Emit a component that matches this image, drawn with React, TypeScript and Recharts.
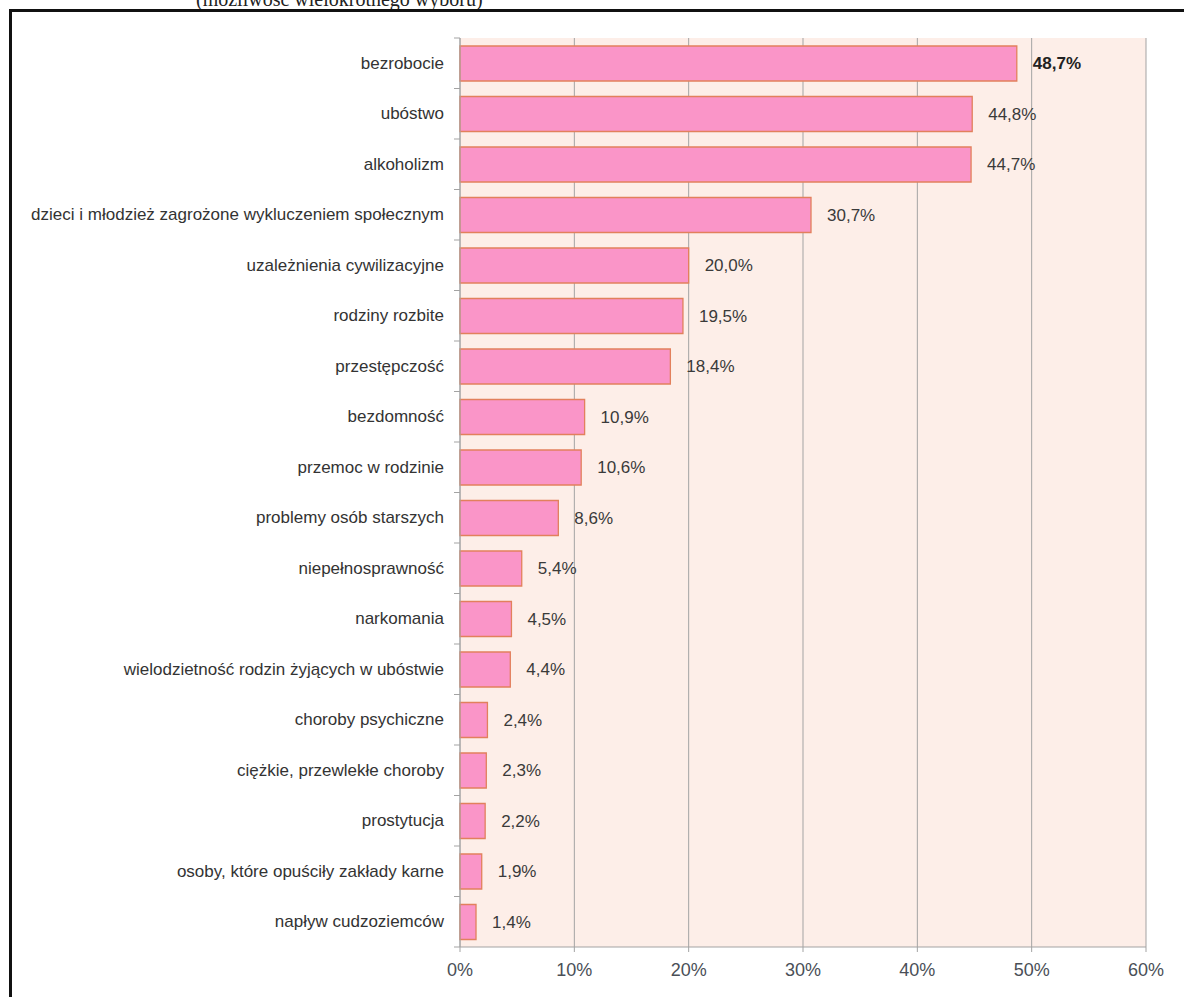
import React from "react";
import { BarChart, Bar, XAxis, YAxis, CartesianGrid, LabelList } from "recharts";

const categories = [
  "bezrobocie",
  "ubóstwo",
  "alkoholizm",
  "dzieci i młodzież zagrożone wykluczeniem społecznym",
  "uzależnienia cywilizacyjne",
  "rodziny rozbite",
  "przestępczość",
  "bezdomność",
  "przemoc w rodzinie",
  "problemy osób starszych",
  "niepełnosprawność",
  "narkomania",
  "wielodzietność rodzin żyjących w ubóstwie",
  "choroby psychiczne",
  "ciężkie, przewlekłe choroby",
  "prostytucja",
  "osoby, które opuściły zakłady karne",
  "napływ cudzoziemców",
];

const values = [48.7, 44.8, 44.7, 30.7, 20.0, 19.5, 18.4, 10.9, 10.6, 8.6, 5.4, 4.5, 4.4, 2.4, 2.3, 2.2, 1.9, 1.4];

const xTicks = [0, 10, 20, 30, 40, 50, 60];

const data = categories.map((name, i) => ({ name, value: values[i] }));

const W = 1184;
const H = 997;
const MARGIN = { top: 38, right: 38, bottom: 18, left: 0 };
const Y_W = 460;
const X_H = 32;
const PLOT_H = H - MARGIN.top - MARGIN.bottom - X_H;
const BAND = PLOT_H / categories.length;
const TICK_SIZE = 6;
const TICK_MARGIN = 10;

const FONT = "'Liberation Sans', Arial, sans-serif";
const GRID = "#a3a3a3";

// category label plus Excel-style tick marks between categories
function CategoryTick(props: any) {
  const { x, y, payload, index } = props;
  const ax = x + TICK_SIZE + TICK_MARGIN;
  return (
    <g>
      <text x={x} y={y} textAnchor="end" dominantBaseline="central" fontFamily={FONT} fontSize={17} fill="#333">
        {payload.value}
      </text>
      <line x1={ax - 6} x2={ax} y1={y - BAND / 2} y2={y - BAND / 2} stroke={GRID} />
      {index === categories.length - 1 && (
        <line x1={ax - 6} x2={ax} y1={y + BAND / 2} y2={y + BAND / 2} stroke={GRID} />
      )}
    </g>
  );
}

function ValueLabel(props: any) {
  const { x, y, width, height, value, index } = props;
  return (
    <text
      x={x + width + 16}
      y={y + height / 2}
      dominantBaseline="central"
      fontFamily={FONT}
      fontSize={17}
      fontWeight={index === 0 ? "bold" : "normal"}
      fill={index === 0 ? "#222" : "#3a3a3a"}
    >
      {value.toFixed(1).replace(".", ",")}%
    </text>
  );
}

export default function App() {
  return (
    <div style={{ position: "absolute", left: 0, top: 0, width: W, height: H, overflow: "hidden", background: "#fff" }}>
      <svg width={W} height={12} style={{ position: "absolute", left: 0, top: 0 }}>
        <text x={196} y={6} fontFamily="'Liberation Serif', 'Times New Roman', serif" fontSize={20} fill="#222">
          (możliwość wielokrotnego wyboru)
        </text>
      </svg>
      <div
        style={{
          position: "absolute",
          left: 9,
          top: 9,
          width: W,
          height: H,
          borderTop: "3px solid #111",
          borderLeft: "3px solid #111",
        }}
      />
      <div style={{ position: "absolute", left: 0, top: 0 }}>
        <BarChart width={W} height={H} data={data} layout="vertical" margin={MARGIN} barSize={35}>
          <CartesianGrid horizontal={false} stroke={GRID} fill="#fdeee8" fillOpacity={1} />
          <XAxis
            type="number"
            domain={[0, 60]}
            ticks={xTicks}
            height={X_H}
            tickFormatter={(v: number) => `${v}%`}
            tick={{ fontFamily: FONT, fontSize: 18, fill: "#4a4f57" }}
            tickMargin={11}
            tickSize={5}
            axisLine={{ stroke: GRID }}
            tickLine={{ stroke: GRID }}
          />
          <YAxis
            type="category"
            dataKey="name"
            width={Y_W}
            tick={<CategoryTick />}
            tickLine={false}
            tickSize={TICK_SIZE}
            tickMargin={TICK_MARGIN}
            axisLine={{ stroke: GRID }}
            interval={0}
          />
          <Bar dataKey="value" fill="#fa95c8" stroke="#e2805c" strokeWidth={1.3} isAnimationActive={false}>
            <LabelList dataKey="value" content={<ValueLabel />} />
          </Bar>
        </BarChart>
      </div>
    </div>
  );
}
